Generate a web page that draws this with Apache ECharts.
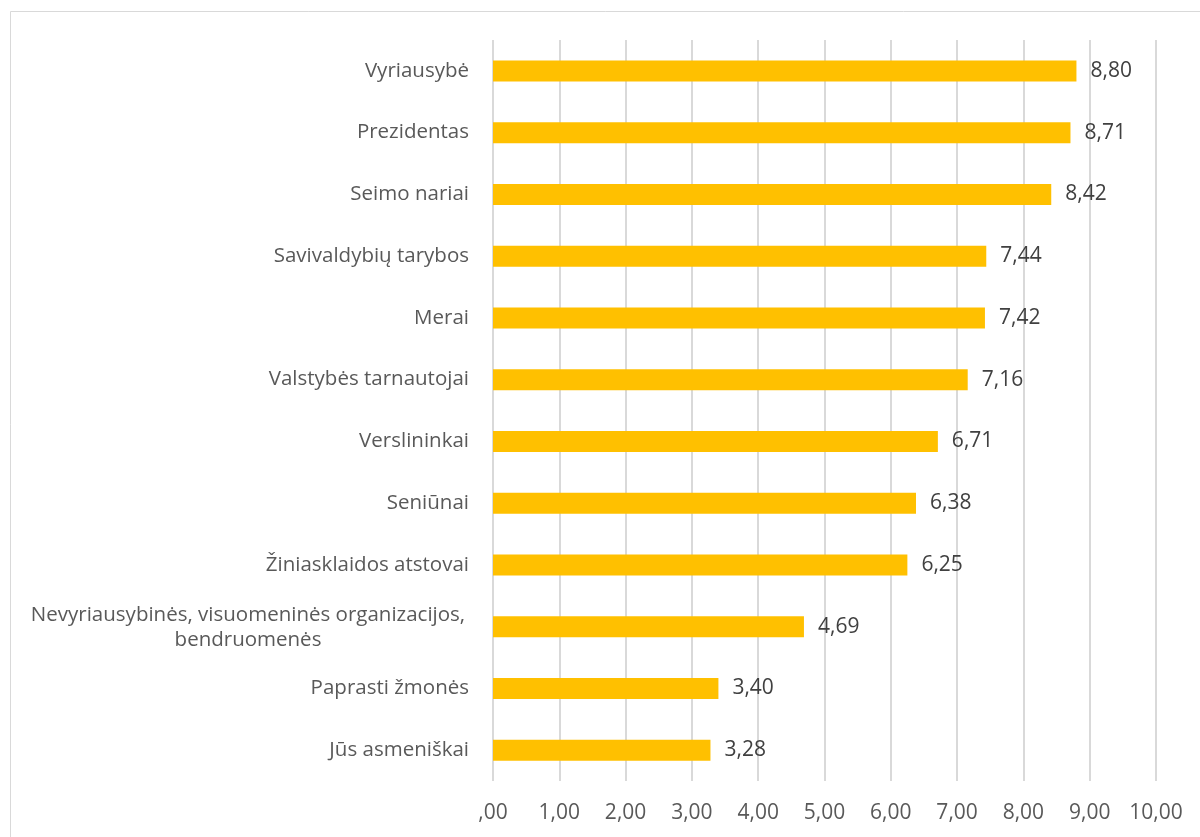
<!DOCTYPE html>
<html>
<head>
<meta charset="utf-8">
<style>
  html, body { margin: 0; padding: 0; background: #fff; }
  #chart { width: 1200px; height: 837px; }
</style>
<script src="https://cdn.jsdelivr.net/npm/echarts@6/dist/echarts.min.js"></script>
</head>
<body>
<div id="chart"></div>
<script>
const categories = [
  'Vyriausybė',
  'Prezidentas',
  'Seimo nariai',
  'Savivaldybių tarybos',
  'Merai',
  'Valstybės tarnautojai',
  'Verslininkai',
  'Seniūnai',
  'Žiniasklaidos atstovai',
  'Nevyriausybinės, visuomeninės organizacijos,\nbendruomenės',
  'Paprasti žmonės',
  'Jūs asmeniškai'
];
const values = [8.80, 8.71, 8.42, 7.44, 7.42, 7.16, 6.71, 6.38, 6.25, 4.69, 3.40, 3.28];
const xTicks = [0, 1, 2, 3, 4, 5, 6, 7, 8, 9, 10];

const FONT = '"Open Sans", "Liberation Sans", sans-serif';
const fmt = v => (v === 0 ? ',00' : v.toFixed(2).replace('.', ','));

const chart = echarts.init(document.getElementById('chart'));
chart.setOption({
  animation: false,
  backgroundColor: '#ffffff',
  graphic: [{
    type: 'rect',
    shape: { x: 10.5, y: 11.5, width: 1220, height: 860 },
    style: { fill: 'none', stroke: '#d9d9d9', lineWidth: 1 },
    silent: true
  }],
  grid: { left: 493, right: 44, top: 40, bottom: 56, containLabel: false },
  xAxis: {
    type: 'value',
    min: xTicks[0],
    max: xTicks[xTicks.length - 1],
    interval: 1,
    axisLine: { show: false },
    axisTick: { show: false },
    splitLine: { show: true, lineStyle: { color: '#d9d9d9', width: 2 } },
    axisLabel: {
      color: '#595959',
      fontFamily: FONT,
      fontSize: 21,
      margin: 22,
      formatter: v => fmt(v)
    }
  },
  yAxis: {
    type: 'category',
    inverse: true,
    data: categories,
    axisLine: { show: false },
    axisTick: { show: false },
    axisLabel: {
      color: '#595959',
      fontFamily: FONT,
      fontSize: 20.5,
      margin: 24,
      lineHeight: 28,
      formatter: function (v) {
        if (v.indexOf('\n') >= 0) {
          const parts = v.split('\n');
          return parts.map((s, i) => (i === 0 ? '{c1|' : '{c|') + s + '}').join('\n');
        }
        return v;
      },
      rich: {
        c1: {
          width: 442,
          align: 'center',
          color: '#595959',
          fontFamily: FONT,
          fontSize: 20.5,
          lineHeight: 28,
          padding: [6, 0, 0, 0]
        },
        c: {
          width: 442,
          align: 'center',
          color: '#595959',
          fontFamily: FONT,
          fontSize: 20.5,
          lineHeight: 28
        }
      }
    }
  },
  series: [{
    type: 'bar',
    data: values,
    barWidth: 21,
    itemStyle: { color: '#ffc000' },
    label: {
      show: true,
      position: 'right',
      distance: 14,
      color: '#404040',
      fontFamily: FONT,
      fontSize: 21,
      formatter: p => fmt(p.value)
    }
  }]
});
</script>
</body>
</html>
